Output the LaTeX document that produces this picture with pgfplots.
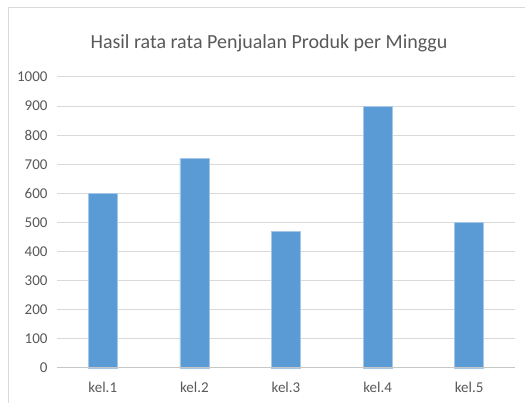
\documentclass[border=0pt]{standalone}
\usepackage{pgfplots}
\pgfplotsset{compat=1.18}
\usepackage{fontspec}
\setmainfont{Carlito}
\definecolor{barblue}{HTML}{5B9BD5}
\definecolor{gridgray}{HTML}{D9D9D9}
\definecolor{txtgray}{HTML}{595959}
\begin{document}
\begin{tikzpicture}[x=1pt,y=1pt]
\useasboundingbox (0,0) rectangle (525,403);
\fill[white] (0,0) rectangle (525,403);
\draw[gridgray, line width=1pt] (8,-10) -- (8,395) -- (540,395);
\node[text=txtgray, font=\fontsize{20}{20}\selectfont] at (269,360) {Hasil rata rata Penjualan Produk per Minggu};
\begin{axis}[
  at={(57pt,35pt)}, anchor=south west,
  scale only axis, width=458pt, height=291pt,
  xmin=-0.5, xmax=4.5, ymin=0, ymax=1000,
  ytick={0,100,...,1000},
  xtick={0,1,2,3,4},
  xticklabels={kel.1,kel.2,kel.3,kel.4,kel.5},
  axis line style={draw=none},
  axis x line*=bottom,
  axis y line*=left,
  major tick length=0pt,
  ymajorgrids, grid style={gridgray, line width=1pt},
  tick label style={text=txtgray, font=\fontsize{15}{15}\selectfont},
  /pgf/number format/assume math mode=true,
  /pgf/number format/1000 sep={},
  yticklabel style={xshift=-6pt},
  xticklabel style={yshift=-11pt},
  clip=false,
]
\addplot[ybar, bar width=29pt, fill=barblue, draw=barblue!55!white, line width=0.6pt]
  coordinates {(0,600) (1,720) (2,470) (3,900) (4,500)};
\draw[gridgray!80!gray, line width=1pt] (axis cs:-0.5,0) -- (axis cs:4.5,0);
\end{axis}
\end{tikzpicture}
\end{document}
